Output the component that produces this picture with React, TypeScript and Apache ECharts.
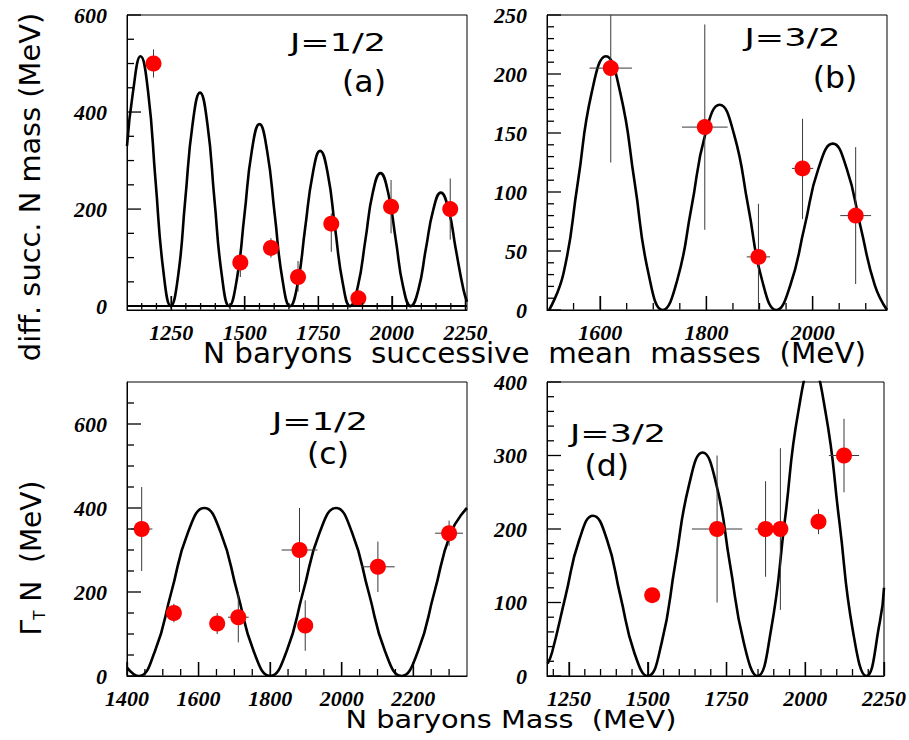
import React, { useEffect, useRef } from 'react';
import * as echarts from 'echarts';

// ---------- Panel (a): J=1/2, differences of successive masses ----------
const aCurveX = [1100, 1120, 1146, 1172, 1197, 1223, 1249, 1274, 1298, 1323, 1348, 1373, 1397, 1422, 1447, 1473, 1499, 1524, 1550, 1576, 1602, 1628, 1654, 1680, 1705, 1731, 1756, 1782, 1807, 1833, 1858, 1884, 1910, 1935, 1961, 1987, 2013, 2038, 2064, 2090, 2115, 2141, 2166, 2192, 2217, 2243, 2255];
const aCurveY = [330, 440, 515, 440, 258, 75, 0, 64, 220, 376, 440, 376, 220, 64, 0, 55, 188, 320, 375, 320, 188, 55, 0, 47, 160, 273, 320, 273, 160, 47, 0, 40, 137, 234, 274, 234, 137, 40, 0, 34, 117, 200, 234, 200, 117, 34, 9];
const aPtX = [1190, 1485, 1589, 1681, 1794, 1886, 1997, 2198];
const aPtY = [500, 90, 120, 60, 170, 16, 205, 200];
const aErrLo = [29, 30, 20, 30, 58, 12, 55, 63];
const aErrHi = [29, 10, 20, 33, 21, 12, 55, 63];
const aXErr = [0, 0, 0, 0, 0, 0, 0, 0];
const aXLabels = [1250, 1500, 1750, 2000, 2250];
const aYLabels = [0, 200, 400, 600];

// ---------- Panel (b): J=3/2, differences of successive masses ----------
const bCurveX = [1504, 1531, 1558, 1584, 1611, 1638, 1665, 1691, 1718, 1745, 1772, 1798, 1825, 1852, 1879, 1905, 1932, 1958, 1985, 2011, 2038, 2064, 2090, 2117, 2140];
const bCurveY = [0, 31, 108, 184, 215, 184, 108, 31, 0, 25, 87, 149, 174, 149, 87, 25, 0, 21, 71, 120, 141, 120, 71, 21, 0];
const bPtX = [1620, 1797, 1898, 1981, 2081];
const bPtY = [205, 155, 45, 120, 80];
const bErrLo = [80, 87, 45, 43, 58];
const bErrHi = [80, 87, 45, 42, 58];
const bXErr = [40, 43, 22, 20, 29];
const bXLabels = [1600, 1800, 2000];
const bYLabels = [0, 50, 100, 150, 200, 250];

// ---------- Panel (c): J=1/2, total widths ----------
const cCurveX = [1400, 1432, 1478, 1524, 1570, 1616, 1662, 1708, 1754, 1800, 1846, 1892, 1938, 1984, 2029, 2075, 2121, 2167, 2213, 2259, 2305, 2350];
const cCurveY = [20, 0, 59, 200, 341, 400, 341, 200, 59, 0, 59, 200, 341, 400, 341, 200, 59, 0, 59, 200, 341, 400];
const cPtX = [1441, 1531, 1652, 1711, 1882, 1898, 2101, 2300];
const cPtY = [350, 150, 125, 140, 300, 120, 260, 340];
const cErrY = [100, 22, 25, 60, 100, 60, 60, 30];
const cXErr = [30, 10, 0, 29, 50, 0, 47, 39];
const cXLabels = [1400, 1600, 1800, 2000, 2200];
const cYLabels = [0, 200, 400, 600];

// ---------- Panel (d): J=3/2, total widths ----------
const dCurveX = [1182, 1196, 1239, 1283, 1326, 1370, 1413, 1457, 1500, 1544, 1587, 1631, 1674, 1718, 1761, 1805, 1848, 1891, 1935, 1978, 2021, 2064, 2108, 2151, 2194, 2237, 2250];
const dCurveY = [17, 32, 109, 186, 218, 186, 109, 32, 0, 45, 152, 260, 304, 260, 152, 45, 0, 62, 211, 360, 422, 360, 211, 62, 0, 74, 120];
const dPtX = [1514, 1720, 1874, 1921, 2042, 2123];
const dPtY = [110, 200, 200, 200, 210, 300];
const dErrY = [0, 100, 65, 110, 17, 50];
const dXErr = [0, 80, 34, 0, 0, 48];
const dXLabels = [1250, 1500, 1750, 2000, 2250];
const dYLabels = [0, 100, 200, 300, 400];

const SANS = 'DejaVu Sans';
const SERIF = "'Liberation Serif', 'Times New Roman', serif";

function steps(min: number, max: number, step: number): number[] {
  const out: number[] = [];
  const start = Math.ceil(min / step) * step;
  for (let v = start; v <= max + 1e-9; v += step) out.push(Math.round(v * 1000) / 1000);
  return out;
}
function minorOf(min: number, max: number, step: number, majors: number[]): number[] {
  return steps(min, max, step).filter((v) => !majors.includes(v) && v > min && v < max);
}

type Panel = {
  grid: { left: number; top: number; width: number; height: number };
  xMin: number; xMax: number; yMin: number; yMax: number;
  xLabels: number[]; xMajor: number[]; xMinorStep: number;
  yLabels: number[]; yMajor: number[]; yMinorStep: number;
  curveX: number[]; curveY: number[];
  ptX: number[]; ptY: number[]; errLo: number[]; errHi: number[]; xErr: number[];
  zeroLine?: boolean;
};

const panels: Panel[] = [
  {
    grid: { left: 127, top: 15, width: 340, height: 295 },
    xMin: 1100, xMax: 2255, yMin: -8, yMax: 600,
    xLabels: aXLabels, xMajor: aXLabels, xMinorStep: 50,
    yLabels: aYLabels, yMajor: aYLabels, yMinorStep: 50,
    curveX: aCurveX, curveY: aCurveY,
    ptX: aPtX, ptY: aPtY, errLo: aErrLo, errHi: aErrHi, xErr: aXErr, zeroLine: true,
  },
  {
    grid: { left: 547, top: 15, width: 340, height: 295 },
    xMin: 1500, xMax: 2140, yMin: 0, yMax: 250,
    xLabels: bXLabels, xMajor: bXLabels, xMinorStep: 50,
    yLabels: bYLabels, yMajor: bYLabels, yMinorStep: 10,
    curveX: bCurveX, curveY: bCurveY,
    ptX: bPtX, ptY: bPtY, errLo: bErrLo, errHi: bErrHi, xErr: bXErr,
  },
  {
    grid: { left: 127, top: 382, width: 340, height: 294 },
    xMin: 1400, xMax: 2350, yMin: 0, yMax: 700,
    xLabels: cXLabels, xMajor: cXLabels, xMinorStep: 50,
    yLabels: cYLabels, yMajor: cYLabels, yMinorStep: 50,
    curveX: cCurveX, curveY: cCurveY,
    ptX: cPtX, ptY: cPtY, errLo: cErrY, errHi: cErrY, xErr: cXErr,
  },
  {
    grid: { left: 547, top: 382, width: 340, height: 294 },
    xMin: 1180, xMax: 2250, yMin: 0, yMax: 400,
    xLabels: dXLabels, xMajor: dXLabels, xMinorStep: 50,
    yLabels: dYLabels, yMajor: dYLabels, yMinorStep: 20,
    curveX: dCurveX, curveY: dCurveY,
    ptX: dPtX, ptY: dPtY, errLo: dErrY, errHi: dErrY, xErr: dXErr,
  },
];

const tickLabelFont = {
  fontFamily: SERIF,
  fontStyle: 'italic' as const,
  fontWeight: 'bold' as const,
  fontSize: 22,
  color: '#000',
  formatter: (v: number) => String(v),
};

function buildOption() {
  const grids: any[] = [];
  const xAxes: any[] = [];
  const yAxes: any[] = [];
  const series: any[] = [];

  panels.forEach((p, i) => {
    grids.push({ ...p.grid, show: true, borderColor: '#000', borderWidth: 1, containLabel: false });
    const lineStyle = { color: '#000', width: 1 };
    xAxes.push({
      gridIndex: i, type: 'value', position: 'bottom', min: p.xMin, max: p.xMax,
      splitLine: { show: false },
      axisLine: { show: true, onZero: false, lineStyle },
      axisTick: { show: true, inside: true, length: 14, customValues: p.xMajor, lineStyle: { color: '#000', width: 1.3 } },
      axisLabel: { show: true, customValues: p.xLabels, margin: 11, ...tickLabelFont },
    });
    yAxes.push({
      gridIndex: i, type: 'value', position: 'left', min: p.yMin, max: p.yMax,
      splitLine: { show: false },
      axisLine: { show: true, onZero: false, lineStyle },
      axisTick: { show: false },
      axisLabel: { show: true, customValues: p.yLabels, margin: 20, ...tickLabelFont },
    });

    const xMinorVals = minorOf(p.xMin, p.xMax, p.xMinorStep, p.xMajor);
    const yMinorVals = minorOf(p.yMin, p.yMax, p.yMinorStep, p.yMajor);
    // Tick marks inside the frame (ROOT style), drawn through the axis scales
    series.push({
      type: 'custom', xAxisIndex: i, yAxisIndex: i, z: 20,
      data: [[p.xMin, p.yMin]], encode: { x: 0, y: 1 },
      renderItem: (params: any, api: any) => {
        const cs = params.coordSys;
        const bottom = cs.y + cs.height;
        const children: any[] = [];
        const style = { stroke: '#000', lineWidth: 1.3 };
        const addX = (v: number, len: number) => {
          const px = api.coord([v, p.yMin])[0];
          children.push({ type: 'line', z2: 50, shape: { x1: px, y1: bottom - 0.5, x2: px, y2: bottom - len }, style });
        };
        const addY = (v: number, len: number) => {
          const py = api.coord([p.xMin, v])[1];
          children.push({ type: 'line', z2: 50, shape: { x1: cs.x, y1: py, x2: cs.x + len, y2: py }, style });
        };
        p.xMajor.forEach((v) => addX(v, 14));
        xMinorVals.forEach((v) => addX(v, 7));
        p.yMajor.forEach((v) => addY(v, 14));
        yMinorVals.forEach((v) => addY(v, 7));
        return { type: 'group', children };
      },
    });

    const line: any = {
      type: 'line', xAxisIndex: i, yAxisIndex: i,
      data: p.curveX.map((x, k) => [x, p.curveY[k]]),
      showSymbol: false, symbol: 'none', smooth: 0.5, clip: true, silent: true,
      lineStyle: { color: '#000', width: 2.6 }, z: 2,
    };
    if (p.zeroLine) {
      line.markLine = {
        silent: true, symbol: ['none', 'none'], label: { show: false },
        lineStyle: { color: '#000', width: 2.2, type: 'solid' },
        data: [{ yAxis: 0 }],
      };
    }
    series.push(line);

    series.push({
      type: 'custom', xAxisIndex: i, yAxisIndex: i, z: 3,
      data: p.ptX.map((x, k) => [x, p.ptY[k], x - p.xErr[k], x + p.xErr[k], p.ptY[k] - p.errLo[k], p.ptY[k] + p.errHi[k]]),
      encode: { x: 0, y: 1 },
      renderItem: (params: any, api: any) => {
        const cs = params.coordSys;
        const x = api.value(0);
        const y = api.value(1);
        const c = api.coord([x, y]);
        const l = api.coord([api.value(2), y]);
        const r = api.coord([api.value(3), y]);
        const lo = api.coord([x, api.value(4)]);
        const hi = api.coord([x, api.value(5)]);
        const cx = (v: number) => Math.max(cs.x, Math.min(cs.x + cs.width, v));
        const cy = (v: number) => Math.max(cs.y, Math.min(cs.y + cs.height, v));
        const style = { stroke: '#3a3a3a', lineWidth: 1 };
        const children: any[] = [];
        if (Math.abs(hi[1] - lo[1]) > 0.5) {
          children.push({ type: 'line', shape: { x1: c[0], y1: cy(hi[1]), x2: c[0], y2: cy(lo[1]) }, style });
        }
        if (Math.abs(r[0] - l[0]) > 0.5) {
          children.push({ type: 'line', shape: { x1: cx(l[0]), y1: c[1], x2: cx(r[0]), y2: c[1] }, style });
        }
        return { type: 'group', children };
      },
    });

    series.push({
      type: 'scatter', xAxisIndex: i, yAxisIndex: i, silent: true, z: 4,
      data: p.ptX.map((x, k) => [x, p.ptY[k]]),
      symbol: 'circle', symbolSize: 16,
      itemStyle: { color: '#ff0000', opacity: 1 },
    });
  });

  const txt = (text: string, x: number, y: number, size: number, scaleX = 1, rotation = 0) => ({
    type: 'text', x, y, scaleX, rotation, silent: true, z: 10,
    style: {
      text, fontFamily: SANS, fontSize: size, fill: '#000',
      align: 'center', verticalAlign: 'middle', textAlign: 'center', textVerticalAlign: 'middle',
    },
  });

  const graphic: any[] = [
    txt('diff. succ. N mass (MeV)', 31, 187, 28, 1.03, Math.PI / 2),
    {
      type: 'text', x: 31, y: 558, rotation: Math.PI / 2, silent: true, z: 10,
      style: {
        text: '{g|Γ}{t|T}{g| N  (MeV)}',
        align: 'center', verticalAlign: 'middle', textAlign: 'center', textVerticalAlign: 'middle',
        fill: '#000', fontFamily: SANS, fontSize: 28,
        rich: {
          g: { fontFamily: SANS, fontSize: 28, lineHeight: 32, fill: '#000', color: '#000' },
          t: { fontFamily: SANS, fontSize: 15, lineHeight: 32, verticalAlign: 'bottom', fill: '#000', color: '#000' },
        },
      },
    },
    txt('N baryons  successive  mean  masses  (MeV)', 534.5, 353, 28, 1.05),
    txt('N baryons Mass  (MeV)', 511, 719, 24, 1.2),
    txt('J=1/2', 338, 42, 25, 1.4),
    txt('(a)', 364, 81, 30, 1.05),
    txt('J=3/2', 792.5, 37, 25, 1.4),
    txt('(b)', 835, 77.5, 30, 1.05),
    txt('J=1/2', 320, 421, 25, 1.4),
    txt('(c)', 328, 453, 30, 1.05),
    txt('J=3/2', 618, 433, 25, 1.4),
    txt('(d)', 606.7, 465, 30, 1.05),
  ];

  return {
    animation: false,
    backgroundColor: '#fff',
    grid: grids,
    xAxis: xAxes,
    yAxis: yAxes,
    series,
    graphic,
  };
}

export default function App() {
  const ref = useRef<HTMLDivElement>(null);
  useEffect(() => {
    if (!ref.current) return;
    const chart = echarts.init(ref.current, undefined, { renderer: 'svg', width: 909, height: 740 });
    chart.setOption(buildOption() as any);
    return () => chart.dispose();
  }, []);
  return (
    <div
      ref={ref}
      style={{ position: 'fixed', left: 0, top: 0, width: 909, height: 740, background: '#fff' }}
    />
  );
}
